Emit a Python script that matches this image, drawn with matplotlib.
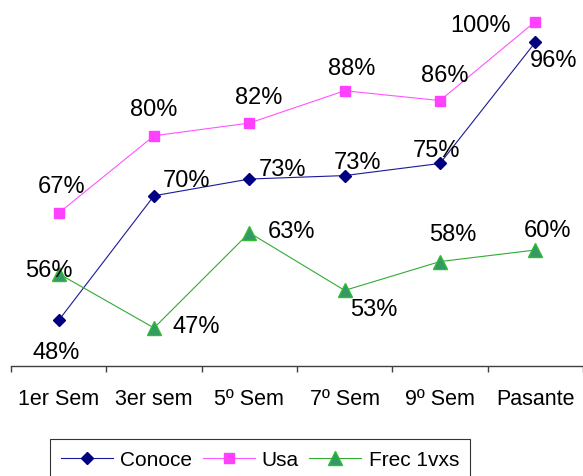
import matplotlib
matplotlib.use('Agg')
import matplotlib.pyplot as plt

plt.rcParams['font.family'] = ['Liberation Sans', 'DejaVu Sans']

categories = ['1er Sem', '3er sem', '5º Sem', '7º Sem', '9º Sem', 'Pasante']
conoce = [48.2, 69.8, 72.7, 73.3, 75.4, 96.4]
usa = [66.8, 80.2, 82.4, 88.0, 86.3, 100.0]
frec = [56.3, 46.9, 63.4, 53.4, 58.4, 60.4]

# label offsets in pixels (dx, dy), dy up
conoce_off = [(-2, -32), (33, 16), (33, 10), (13, 14), (-4, 13), (18, -18)]
usa_off = [(3, 27), (0, 27), (9, 26), (7, 23), (5, 26), (-55, -3)]
frec_off = [(-10, 4), (42, 2), (42, 2), (29, -19), (13, 28), (12, 20)]


def label_points(ax, values, offsets):
    for i, (v, off) in enumerate(zip(values, offsets)):
        ax.annotate(f'{v:.0f}%', (i, v), xytext=off, textcoords='offset pixels',
                    ha='center', va='center', fontsize=17, color='black')


def main():
    fig = plt.figure(figsize=(5.83, 4.77), dpi=100)
    ax = fig.add_axes([11 / 583, 110 / 477, 572 / 583, 367 / 477])
    x = range(len(categories))

    ax.plot(x, conoce, color='#1a1a99', lw=0.8, marker='D', ms=5.8,
            mfc='#000080', mec='#000080', label='Conoce')
    ax.plot(x, usa, color='#ff55ff', lw=0.8, marker='s', ms=7.2,
            mfc='#ff40ff', mec='#ff40ff', label='Usa')
    ax.plot(x, frec, color='#33aa33', lw=0.8, marker='^', ms=9.5,
            mfc='#339966', mec='#33bb33', label='Frec 1vxs')

    label_points(ax, conoce, conoce_off)
    label_points(ax, usa, usa_off)
    label_points(ax, frec, frec_off)

    ax.set_xlim(-0.5, 5.5)
    ax.set_ylim(40.3, 103.9)
    for s in ['left', 'right', 'top']:
        ax.spines[s].set_visible(False)
    ax.spines['bottom'].set_color('#404040')
    ax.spines['bottom'].set_linewidth(1.0)
    ax.set_yticks([])
    ax.set_xticks(list(x))
    ax.set_xticklabels(categories, fontsize=15.5)
    ax.set_xticks([i - 0.5 for i in range(len(categories) + 1)], minor=True)
    ax.tick_params(axis='x', which='major', length=0, pad=15.5)
    ax.tick_params(axis='x', which='minor', length=4.5, width=1.0,
                   color='#404040', direction='out')

    leg = fig.legend(loc='upper center', bbox_to_anchor=(260 / 583, 37 / 477),
                     bbox_transform=fig.transFigure, ncol=3, fontsize=15,
                     frameon=True, fancybox=False, borderaxespad=0,
                     handlelength=2.5, handletextpad=0.34, columnspacing=0.5,
                     borderpad=0.55)
    leg.get_frame().set_edgecolor('black')
    leg.get_frame().set_linewidth(0.8)

    fig.savefig('out.png', dpi=100)


if __name__ == '__main__':
    main()
